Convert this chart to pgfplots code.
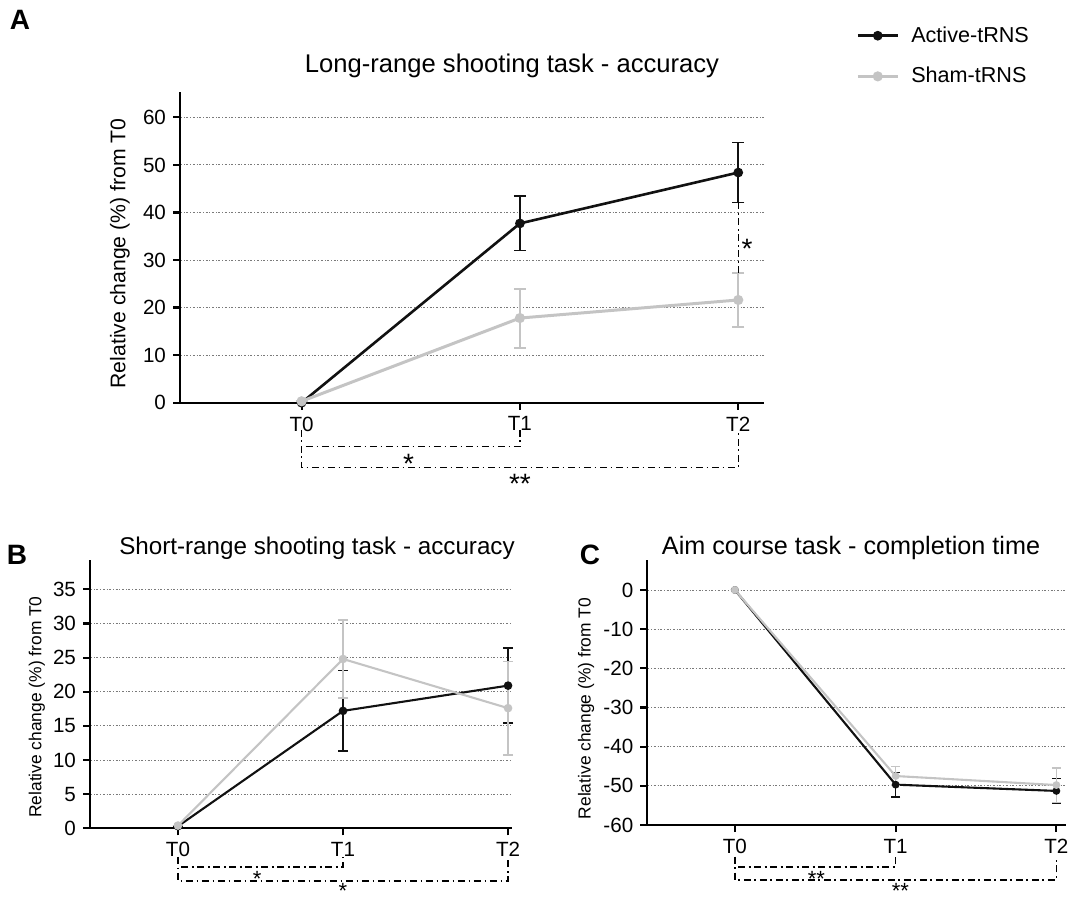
\documentclass[border=0pt]{standalone}
\usepackage{fontspec}
\setmainfont{Liberation Sans}
\usepackage{pgfplots}
\pgfplotsset{compat=1.18}
\definecolor{act}{HTML}{111111}
\definecolor{sham}{HTML}{C4C4C4}
\definecolor{gridc}{HTML}{7A7A7A}
\tikzset{br/.style={black, line width=0.75pt, dash pattern=on 3.5pt off 1.8pt on 0.9pt off 1.8pt},
  star/.style={font=\fontsize{14}{14}\selectfont, inner sep=0pt, anchor=base, yshift=-8.2pt},
  smallstar/.style={font=\fontsize{11}{11}\selectfont, inner sep=0pt, anchor=base, yshift=-6.45pt}}
\pgfplotsset{
  base/.style={
    scale only axis,
    axis lines=left,
    axis line style={-, line width=1.15pt, black},
    tick align=outside,
    major tick length=3.5pt,
    tick style={black, line width=1.1pt},
    xtick={0,1,2}, xticklabels={T0,T1,T2},
    ymajorgrids,
    grid style={gridc, line width=0.45pt, dash pattern=on 1pt off 0.9pt on 0.4pt off 0.9pt},
    /pgf/number format/assume math mode=true,
    tick label style={font=\fontsize{10.3}{12}\selectfont},
    clip=false,
  },
}
\begin{document}
\begin{tikzpicture}
\useasboundingbox (0,0) rectangle (534.5pt,452pt);
% ---------------- Panel A
\begin{axis}[base,
  at={(90pt,250.65pt)}, anchor=south west,
  width=292pt, height=155.5pt,
  xmin=-0.557, xmax=2.118, ymin=0, ymax=65.4,
  ytick={0,10,...,60},
  ylabel={Relative change (\%) from T0},
  ylabel style={at={(axis description cs:-0.103,0.48)}, anchor=center, font=\fontsize{10.6}{12}\selectfont},
  legend image code/.code={\draw[mark repeat=2, mark phase=2, #1] plot coordinates {(0pt,0pt) (10pt,0pt) (20pt,0pt)};},
  legend style={at={(axis description cs:1.147,1.237)}, anchor=north west, draw=none, fill=none,
    font=\fontsize{10.8}{12}\selectfont, row sep=7pt, legend cell align=left},
]
\addplot[act, line width=1.3pt, mark=*, mark size=1.75pt,
  error bars/.cd, y dir=both, y explicit,
  error bar style={line width=0.85pt, act},
  error mark options={rotate=90, mark size=3pt, line width=0.85pt, act}]
  coordinates {(0,0) +- (0,0) (1,37.7) +- (0,5.7) (2,48.4) +- (0,6.3)};
\addlegendentry{\hspace{4pt}Active-tRNS}
\addplot[sham, line width=1.5pt, mark=*, mark size=1.75pt,
  error bars/.cd, y dir=both, y explicit,
  error bar style={line width=1pt, sham},
  error mark options={rotate=90, mark size=3pt, line width=1pt, sham}]
  coordinates {(0,0.3) +- (0,0) (1,17.8) +- (0,6.2) (2,21.6) +- (0,5.7)};
\addlegendentry{\hspace{4pt}Sham-tRNS}
\draw[br] (axis cs:0,-5.7) -- (axis cs:0,-13.6) -- (axis cs:2,-13.6) -- (axis cs:2,-5.7);
\draw[br] (axis cs:0.02,-9.25) -- (axis cs:1,-9.25) -- (axis cs:1,-5.7);
\node[star] at (axis cs:0.49,-11.4) {*};
\node[star] at (axis cs:1.0,-15.7) {**};
\draw[br] (axis cs:2,42.1) -- (axis cs:2,27.3);
\node[star] at (axis cs:2.04,33.7) {*};
\end{axis}
% ---------------- Panel B
\begin{axis}[base,
  at={(45pt,37.85pt)}, anchor=south west,
  width=211pt, height=134.15pt,
  xmin=-0.533, xmax=2.024, ymin=0, ymax=39.3,
  ytick={0,5,...,35},
  ylabel={Relative change (\%) from T0},
  ylabel style={at={(axis description cs:-0.126,0.452)}, anchor=center, font=\fontsize{8.7}{10}\selectfont},
]
\addplot[act, line width=1.05pt, mark=*, mark size=1.6pt,
  error bars/.cd, y dir=both, y explicit,
  error bar style={line width=0.85pt, act},
  error mark options={rotate=90, mark size=2.5pt, line width=0.85pt, act}]
  coordinates {(0,0.3) +- (0,0) (1,17.2) +- (0,5.9) (2,20.9) +- (0,5.5)};
\addplot[sham, line width=1.05pt, mark=*, mark size=1.6pt,
  error bars/.cd, y dir=both, y explicit,
  error bar style={line width=0.85pt, sham},
  error mark options={rotate=90, mark size=2.5pt, line width=0.85pt, sham}]
  coordinates {(0,0.4) +- (0,0) (1,24.8) +- (0,5.7) (2,17.6) +- (0,6.85)};
\draw[br] (axis cs:0,-4.2) -- (axis cs:0,-7.72) -- (axis cs:2,-7.72) -- (axis cs:2,-4.2);
\draw[br] (axis cs:0.02,-5.67) -- (axis cs:1,-5.67) -- (axis cs:1,-4.2);
\node[smallstar] at (axis cs:0.48,-6.69) {*};
\node[smallstar] at (axis cs:1.0,-8.45) {*};
\end{axis}
% ---------------- Panel C
\begin{axis}[base,
  at={(323.65pt,39.5pt)}, anchor=south west,
  width=209.35pt, height=132.5pt,
  xmin=-0.545, xmax=2.06, ymin=-60, ymax=7.65,
  ytick={-60,-50,...,0},
  ylabel={Relative change (\%) from T0},
  ylabel style={at={(axis description cs:-0.146,0.44)}, anchor=center, font=\fontsize{8.7}{10}\selectfont},
]
\addplot[act, line width=1.05pt, mark=*, mark size=1.4pt,
  error bars/.cd, y dir=both, y explicit,
  error bar style={line width=0.75pt, act},
  error mark options={rotate=90, mark size=2.2pt, line width=0.75pt, act}]
  coordinates {(0,0) +- (0,0) (1,-49.7) +- (0,3.1) (2,-51.3) +- (0,3.2)};
\addplot[sham, line width=1.05pt, mark=*, mark size=1.4pt,
  error bars/.cd, y dir=both, y explicit,
  error bar style={line width=0.75pt, sham},
  error mark options={rotate=90, mark size=2.2pt, line width=0.75pt, sham}]
  coordinates {(0,0) +- (0,0) (1,-47.5) +- (0,2.4) (2,-49.8) +- (0,4.4)};
\draw[br] (axis cs:0,-68.1) -- (axis cs:0,-73.98) -- (axis cs:2,-73.98) -- (axis cs:2,-68.1);
\draw[br] (axis cs:0.02,-70.66) -- (axis cs:1,-70.66) -- (axis cs:1,-68.1);
\node[smallstar] at (axis cs:0.507,-72.45) {**};
\node[smallstar] at (axis cs:1.03,-75.5) {**};
\end{axis}
% titles and panel letters
\node[font=\fontsize{12.8}{14}\selectfont] at (256pt,419pt) {Long-range shooting task - accuracy};
\node[font=\fontsize{12.1}{14}\selectfont] at (158.5pt,178pt) {Short-range shooting task - accuracy};
\node[font=\fontsize{12.6}{14}\selectfont] at (425.5pt,178pt) {Aim course task - completion time};
\node[font=\bfseries\fontsize{14}{14}\selectfont] at (10pt,442pt) {A};
\node[font=\bfseries\fontsize{14}{14}\selectfont] at (8.5pt,174.5pt) {B};
\node[font=\bfseries\fontsize{14}{14}\selectfont] at (295pt,174.5pt) {C};
\end{tikzpicture}
\end{document}
